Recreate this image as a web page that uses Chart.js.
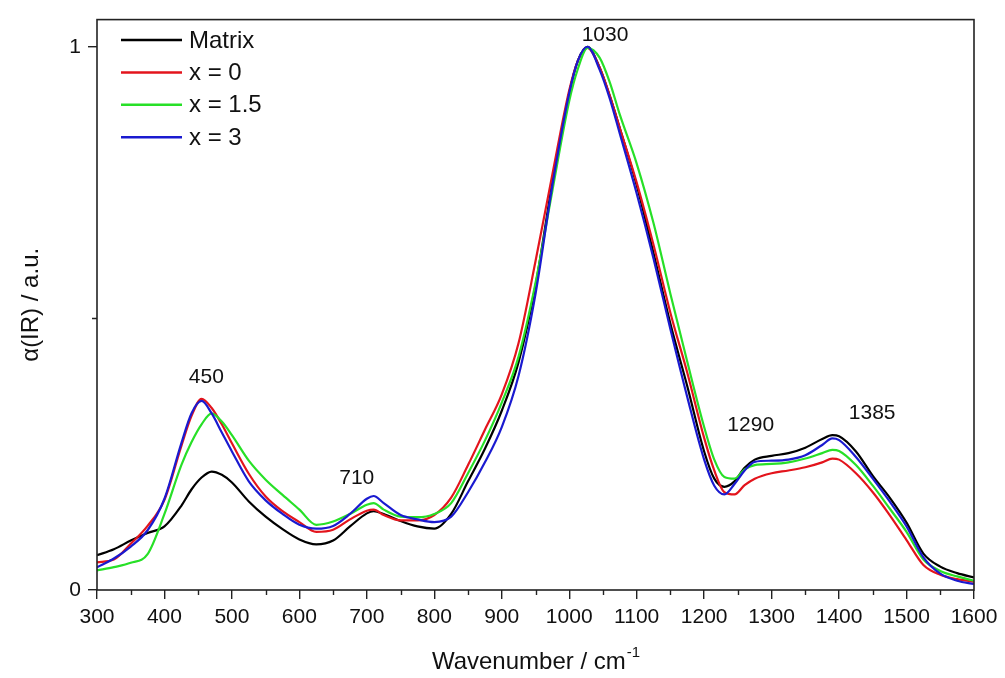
<!DOCTYPE html>
<html lang="en">
<head>
  <meta charset="UTF-8">
  <title>IR absorption spectra</title>
  <script src="https://cdn.jsdelivr.net/npm/chart.js"></script>
  <style>
    body {
      margin: 0;
      background: #fff;
    }
    .wrap {
      width: 1005px;
      height: 678px;
      position: relative;
    }
  </style>
</head>
<body>
  <div class="wrap">
    <canvas id="chartCanvas"></canvas>
  </div>

  <script>
    // wavenumber grid (cm-1) shared by all curves
    const wavenumber = [300, 325, 350, 375, 400, 425, 440, 455, 470, 485, 500, 525, 550, 575, 600, 625, 650, 675, 700, 710, 725, 750, 775, 800, 825, 850, 875, 900, 925, 950, 975, 1000, 1013, 1027, 1045, 1060, 1075, 1100, 1125, 1150, 1175, 1200, 1215, 1230, 1245, 1260, 1275, 1300, 1325, 1350, 1375, 1390, 1400, 1425, 1450, 1475, 1500, 1525, 1550, 1575, 1600];

    const matrix = [0.064, 0.075, 0.091, 0.105, 0.117, 0.155, 0.185, 0.207, 0.218, 0.212, 0.198, 0.163, 0.135, 0.112, 0.093, 0.084, 0.091, 0.117, 0.141, 0.145, 0.140, 0.127, 0.117, 0.113, 0.140, 0.200, 0.260, 0.330, 0.420, 0.560, 0.750, 0.915, 0.975, 1.000, 0.962, 0.910, 0.850, 0.745, 0.620, 0.490, 0.375, 0.255, 0.205, 0.190, 0.200, 0.225, 0.240, 0.247, 0.252, 0.262, 0.278, 0.285, 0.283, 0.255, 0.210, 0.170, 0.124, 0.067, 0.043, 0.031, 0.023];

    const x0 = [0.051, 0.056, 0.085, 0.118, 0.166, 0.265, 0.320, 0.352, 0.335, 0.305, 0.270, 0.214, 0.172, 0.145, 0.125, 0.107, 0.111, 0.130, 0.146, 0.148, 0.138, 0.128, 0.128, 0.138, 0.170, 0.230, 0.295, 0.360, 0.455, 0.605, 0.765, 0.920, 0.975, 0.998, 0.962, 0.910, 0.850, 0.750, 0.635, 0.510, 0.400, 0.280, 0.220, 0.180, 0.176, 0.193, 0.205, 0.215, 0.220, 0.226, 0.235, 0.242, 0.240, 0.215, 0.180, 0.138, 0.092, 0.046, 0.028, 0.020, 0.015];

    const x15 = [0.036, 0.042, 0.050, 0.066, 0.140, 0.230, 0.272, 0.305, 0.325, 0.310, 0.285, 0.238, 0.203, 0.175, 0.148, 0.120, 0.126, 0.140, 0.157, 0.160, 0.148, 0.135, 0.134, 0.140, 0.160, 0.215, 0.275, 0.345, 0.430, 0.565, 0.735, 0.900, 0.960, 0.998, 0.980, 0.935, 0.875, 0.785, 0.675, 0.545, 0.420, 0.300, 0.240, 0.208, 0.205, 0.222, 0.230, 0.232, 0.235, 0.242, 0.252, 0.258, 0.256, 0.230, 0.192, 0.150, 0.107, 0.056, 0.035, 0.025, 0.017];

    const x3 = [0.042, 0.058, 0.080, 0.110, 0.168, 0.270, 0.325, 0.348, 0.325, 0.290, 0.255, 0.200, 0.165, 0.140, 0.120, 0.113, 0.118, 0.140, 0.168, 0.173, 0.160, 0.138, 0.130, 0.125, 0.135, 0.180, 0.235, 0.300, 0.395, 0.545, 0.745, 0.915, 0.975, 1.000, 0.958, 0.905, 0.840, 0.730, 0.610, 0.480, 0.355, 0.240, 0.192, 0.176, 0.195, 0.220, 0.236, 0.238, 0.240, 0.248, 0.267, 0.279, 0.276, 0.245, 0.205, 0.163, 0.117, 0.060, 0.030, 0.017, 0.011];

    const seriesNames = ['Matrix', 'x = 0', 'x = 1.5', 'x = 3'];
    const seriesColors = ['#000000', '#e3141c', '#27e027', '#1a1ad0'];

    const xMajorTicks = [300, 400, 500, 600, 700, 800, 900, 1000, 1100, 1200, 1300, 1400, 1500, 1600];
    const xMinorTicks = [350, 450, 550, 650, 750, 850, 950, 1050, 1150, 1250, 1350, 1450, 1550];
    const yMajorTicks = [0, 1];
    const yMinorTicks = [0.5];

    const peakLabels = ['450', '710', '1030', '1290', '1385'];

    const FONT = "'Liberation Sans', Arial, sans-serif";

    const toPoints = ys => wavenumber.map((w, i) => ({ x: w, y: ys[i] }));
    const allSeries = [matrix, x0, x15, x3];

    // draws frame, minor ticks, peak labels, legend and axis titles
    const decorations = {
      id: 'decorations',
      afterDraw(chart) {
        const ctx = chart.ctx;
        const area = chart.chartArea;
        const xs = chart.scales.x;
        const ys = chart.scales.y;

        ctx.save();
        ctx.strokeStyle = '#222';
        ctx.lineWidth = 1.6;
        ctx.strokeRect(area.left, area.top, area.right - area.left, area.bottom - area.top);

        // minor ticks
        ctx.lineWidth = 1.4;
        ctx.beginPath();
        xMinorTicks.forEach(v => {
          const px = Math.round(xs.getPixelForValue(v)) + 0.5;
          ctx.moveTo(px, area.bottom);
          ctx.lineTo(px, area.bottom + 5);
        });
        yMinorTicks.forEach(v => {
          const py = Math.round(ys.getPixelForValue(v)) + 0.5;
          ctx.moveTo(area.left, py);
          ctx.lineTo(area.left - 5, py);
        });
        ctx.stroke();

        // peak labels
        const peakAt = [[462, 0.391], [685, 0.205], [1053, 1.022], [1269, 0.304], [1449, 0.325]];
        ctx.fillStyle = '#111';
        ctx.font = '21px ' + FONT;
        ctx.textAlign = 'center';
        ctx.textBaseline = 'middle';
        peakLabels.forEach((t, i) => {
          ctx.fillText(t, xs.getPixelForValue(peakAt[i][0]), ys.getPixelForValue(peakAt[i][1]));
        });

        // legend
        ctx.font = '24px ' + FONT;
        ctx.textAlign = 'left';
        seriesNames.forEach((name, i) => {
          const y = 40 + i * 32.4;
          ctx.strokeStyle = seriesColors[i];
          ctx.lineWidth = 2.5;
          ctx.beginPath();
          ctx.moveTo(121, y);
          ctx.lineTo(182, y);
          ctx.stroke();
          ctx.fillStyle = '#111';
          ctx.fillText(name, 189, y + 1);
        });

        // x title with superscript
        const cx = (area.left + area.right) / 2;
        const main = 'Wavenumber / cm';
        ctx.font = '15px ' + FONT;
        const supW = ctx.measureText('-1').width;
        ctx.font = '24px ' + FONT;
        const mainW = ctx.measureText(main).width;
        const startX = cx - (mainW + supW) / 2;
        ctx.textBaseline = 'alphabetic';
        ctx.fillText(main, startX, 669);
        ctx.font = '15px ' + FONT;
        ctx.fillText('-1', startX + mainW + 1, 657);

        // y title
        ctx.translate(31, (area.top + area.bottom) / 2);
        ctx.rotate(-Math.PI / 2);
        ctx.font = '24px ' + FONT;
        ctx.textAlign = 'center';
        ctx.textBaseline = 'middle';
        ctx.fillText('\u03B1(IR) / a.u.', 0, 0);
        ctx.restore();
      }
    };

    const chart = new Chart(document.getElementById('chartCanvas'), {
      type: 'line',
      data: {
        datasets: allSeries.map((ys, i) => ({
          label: seriesNames[i],
          data: toPoints(ys),
          borderColor: seriesColors[i],
          borderWidth: 2.2,
          pointRadius: 0,
          fill: false,
          cubicInterpolationMode: 'monotone',
          order: 3 - i
        }))
      },
      options: {
        responsive: true,
        maintainAspectRatio: false,
        animation: false,
        layout: { padding: { top: 13, right: 31, left: 0, bottom: 0 } },
        plugins: {
          legend: { display: false },
          tooltip: { enabled: false }
        },
        scales: {
          x: {
            type: 'linear',
            min: 300,
            max: 1600,
            afterBuildTicks: axis => { axis.ticks = xMajorTicks.map(v => ({ value: v })); },
            afterFit: axis => { axis.height = 88; },
            grid: { drawOnChartArea: false, tickLength: 9, color: '#222', lineWidth: 1.4 },
            border: { display: false },
            ticks: {
              color: '#111',
              font: { family: FONT, size: 21 },
              padding: 6,
              maxRotation: 0,
              autoSkip: false,
              callback: v => String(v)
            }
          },
          y: {
            type: 'linear',
            min: 0,
            max: 1.05,
            afterBuildTicks: axis => { axis.ticks = yMajorTicks.map(v => ({ value: v })); },
            afterFit: axis => { axis.width = 97; },
            grid: { drawOnChartArea: false, tickLength: 9, color: '#222', lineWidth: 1.4 },
            border: { display: false },
            ticks: {
              color: '#111',
              font: { family: FONT, size: 21 },
              padding: 7,
              callback: v => String(v)
            }
          }
        }
      },
      plugins: [decorations]
    });
  </script>
</body>
</html>
